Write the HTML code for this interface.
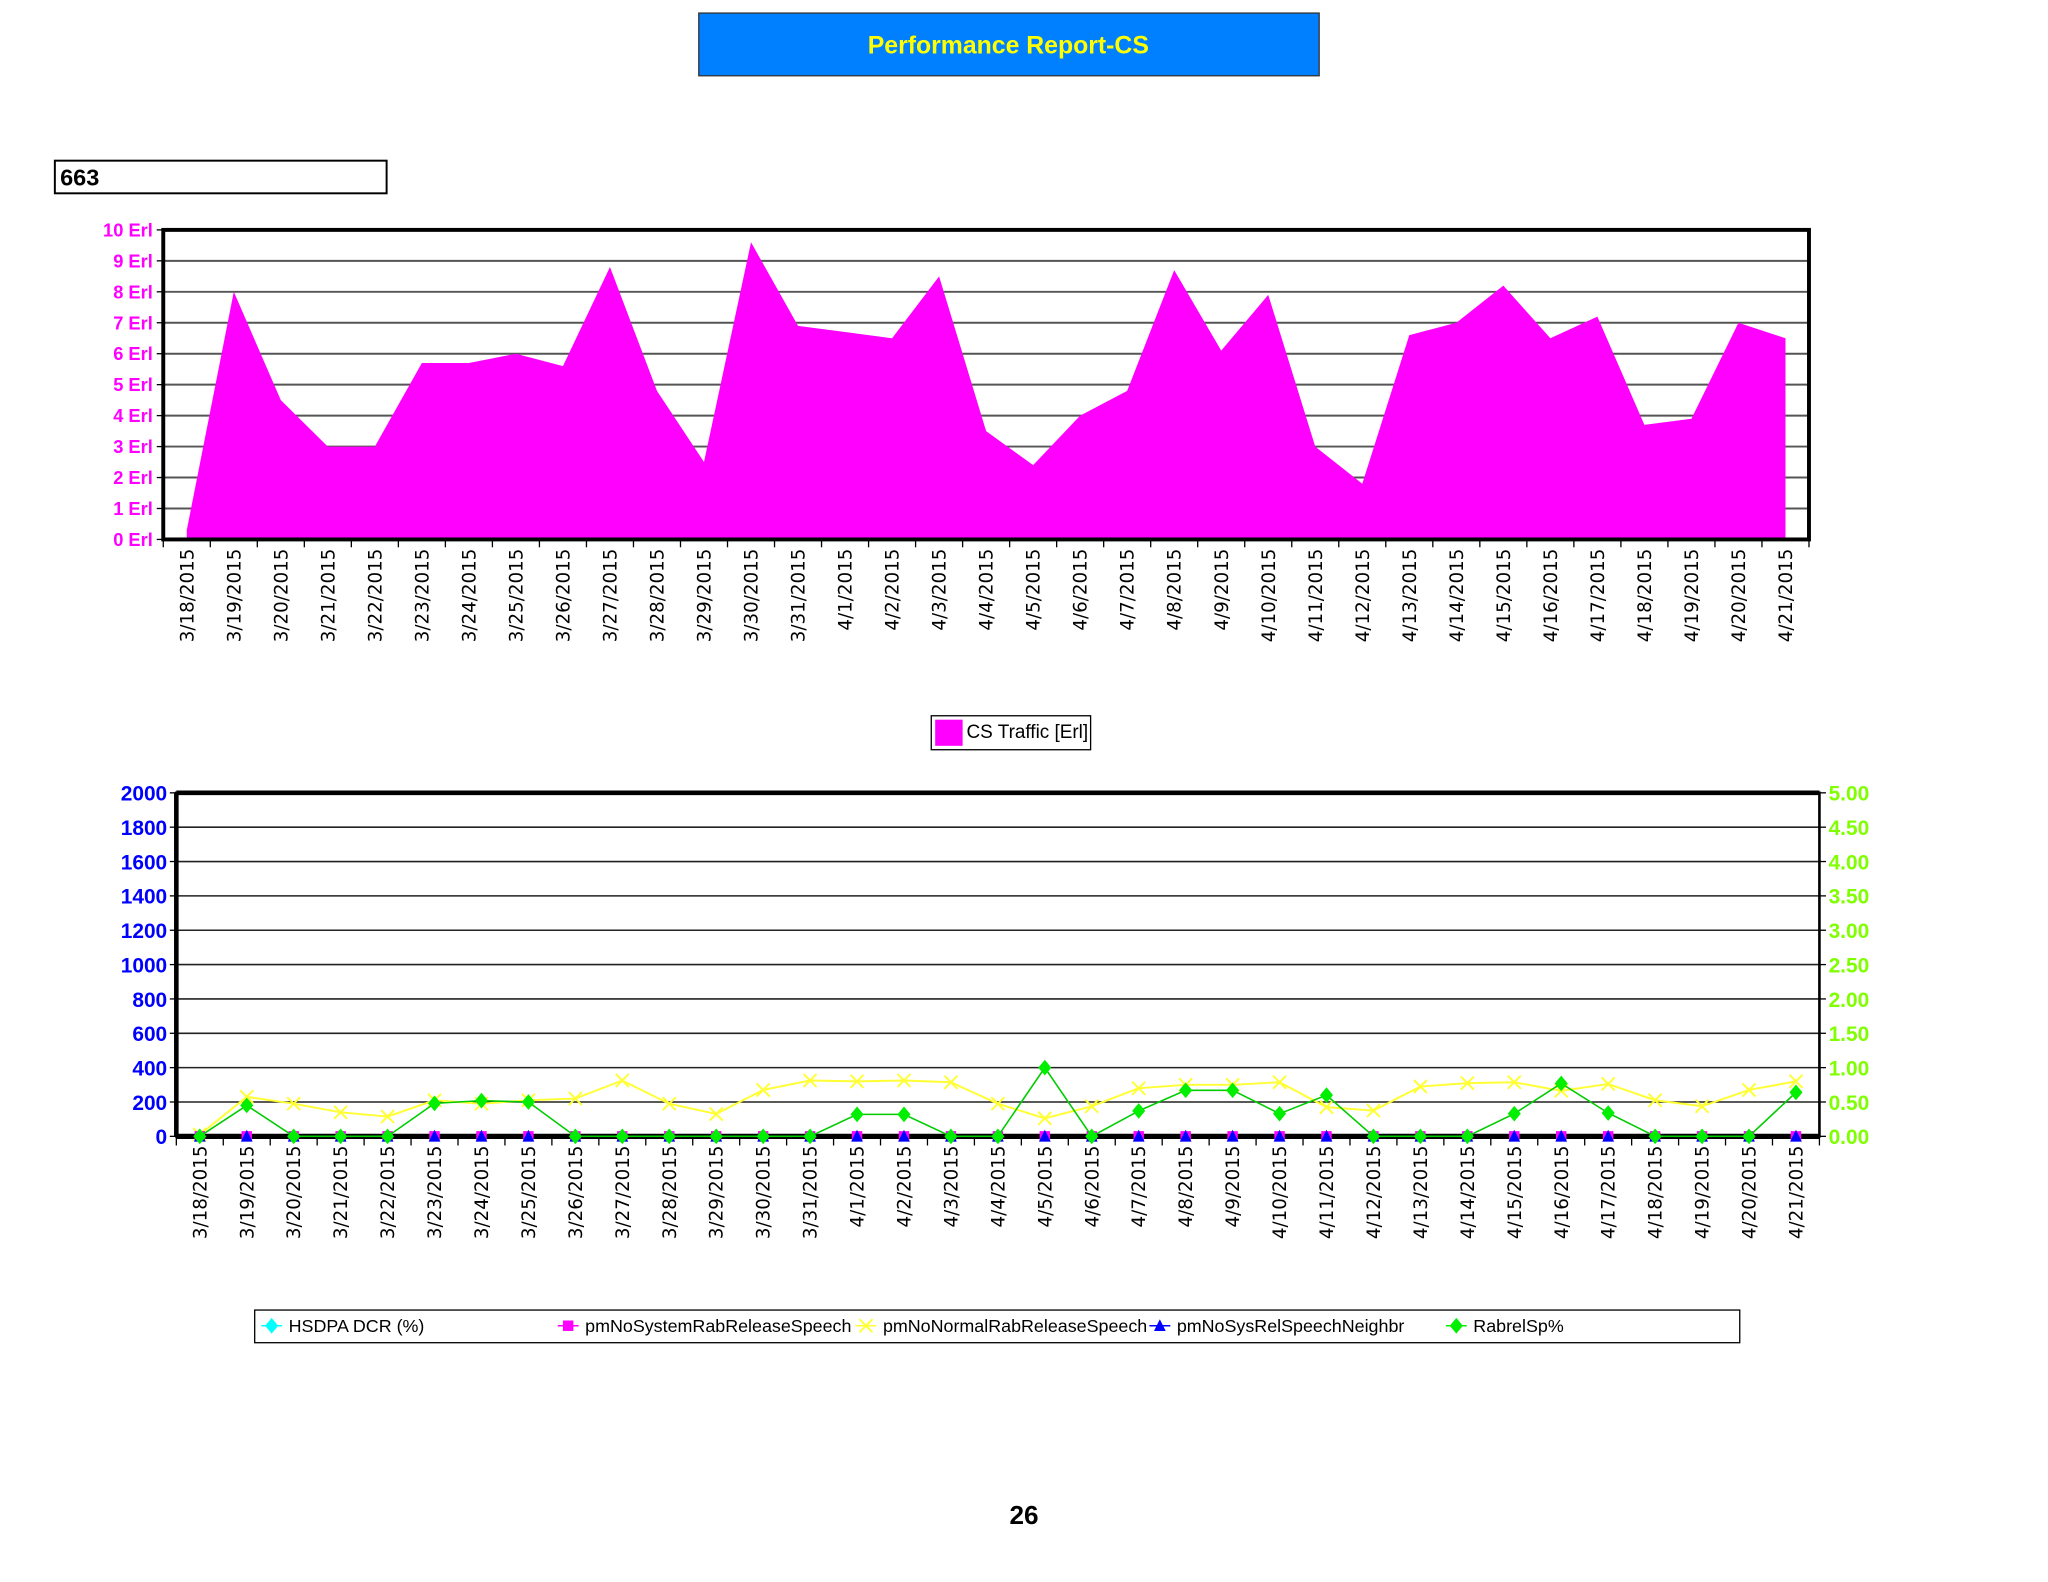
<!DOCTYPE html>
<html><head><meta charset="utf-8"><style>
html,body{margin:0;padding:0;background:#fff;}
svg{display:block;font-family:"Liberation Sans",sans-serif;}
</style></head><body>
<svg id="root" width="2048" height="1582" viewBox="0 0 1568 1211.2">
<rect x="535" y="10" width="475" height="48" fill="#0080ff" stroke="#333" stroke-width="1"/>
<text x="772" y="41" text-anchor="middle" font-size="19" font-weight="bold" fill="#ffff00">Performance Report-CS</text>
<rect x="42" y="123" width="254" height="25" fill="#fff" stroke="#000" stroke-width="1.5"/>
<text x="46" y="142" font-size="18" font-weight="bold" fill="#000">663</text>
<g id="c1"></g>
<g id="lg1">
<rect x="713" y="548" width="122" height="26" fill="#fff" stroke="#000" stroke-width="1"/>
<rect x="716" y="551" width="21" height="20" fill="#ff00ff"/>
<text x="740" y="565" font-size="14.5" fill="#000">CS Traffic [Erl]</text>
</g>
<g id="c2"></g>
<g id="lg2">
<rect x="195" y="1003" width="1137" height="25" fill="#fff" stroke="#000" stroke-width="1"/>
</g>
<text x="784" y="1167" text-anchor="middle" font-size="20" font-weight="bold" fill="#000">26</text>
</svg>
<script>
const dates=["3/18/2015","3/19/2015","3/20/2015","3/21/2015","3/22/2015","3/23/2015","3/24/2015","3/25/2015","3/26/2015","3/27/2015","3/28/2015","3/29/2015","3/30/2015","3/31/2015","4/1/2015","4/2/2015","4/3/2015","4/4/2015","4/5/2015","4/6/2015","4/7/2015","4/8/2015","4/9/2015","4/10/2015","4/11/2015","4/12/2015","4/13/2015","4/14/2015","4/15/2015","4/16/2015","4/17/2015","4/18/2015","4/19/2015","4/20/2015","4/21/2015"];
const csTraffic=[0.3,8.0,4.5,3.0,3.0,5.7,5.7,6.0,5.6,8.8,4.8,2.5,9.6,6.9,6.7,6.5,8.5,3.5,2.4,4.0,4.8,8.7,6.1,7.9,3.0,1.8,6.6,7.0,8.2,6.5,7.2,3.7,3.9,7.0,6.5];
const erlTicks=["0 Erl","1 Erl","2 Erl","3 Erl","4 Erl","5 Erl","6 Erl","7 Erl","8 Erl","9 Erl","10 Erl"];
const normalRel=[10,230,190,140,115,210,190,210,220,325,190,130,270,325,320,325,315,190,105,175,280,300,300,315,170,150,290,310,315,265,305,210,175,270,320];
const rabrelSp=[0,0.45,0,0,0,0.48,0.52,0.5,0,0,0,0,0,0,0.32,0.32,0,0,1.0,0,0.37,0.67,0.67,0.33,0.6,0,0,0,0.33,0.77,0.34,0,0,0,0.64];
const systemRel=dates.map(()=>0);
const sysRelNeighbr=dates.map(()=>0);
const hsdpaDcr=dates.map(()=>0);
const leftTicks=[0,200,400,600,800,1000,1200,1400,1600,1800,2000];
const rightTicks=["0.00","0.50","1.00","1.50","2.00","2.50","3.00","3.50","4.00","4.50","5.00"];

const NS="http://www.w3.org/2000/svg";
function mk(p,t,a){const e=document.createElementNS(NS,t);for(const k in a)e.setAttribute(k,a[k]);p.appendChild(e);return e;}

(function(){
const g=document.getElementById('c1');
const L=125,R=1385,T=176,B=413,n=dates.length,bw=(R-L)/n;
const x=i=>L+bw*(i+0.5), y=v=>B-(v/10)*(B-T);
erlTicks.forEach((t,i)=>{
 const yy=y(i);
 const gl=mk(g,'line',{x1:L,x2:R,y1:yy,y2:yy,stroke:'#555','stroke-width':1.5});
 
 
 mk(g,'line',{x1:L-5,x2:L,y1:yy,y2:yy,stroke:'#000'});
 const tx=mk(g,'text',{x:117,y:yy+5,'text-anchor':'end','font-size':14,'font-weight':'bold',fill:'#ff00ff'});
 tx.textContent=t;
 
 
});
let d='M'+x(0)+','+B;
csTraffic.forEach((v,i)=>{d+=' L'+x(i)+','+y(v);});
d+=' L'+x(n-1)+','+B+' Z';
const area=mk(g,'path',{d:d,fill:'#ff00ff'});


const fr=mk(g,'rect',{x:L,y:T,width:R-L,height:B-T,fill:'none',stroke:'#000','stroke-width':3});


for(let i=0;i<=n;i++)mk(g,'line',{x1:L+bw*i,x2:L+bw*i,y1:B,y2:B+6,stroke:'#000'});
dates.forEach((t,i)=>{
 const tx=mk(g,'text',{x:0,y:0,transform:`translate(${x(i)+5},420) rotate(-90)`,'text-anchor':'end','font-size':14,fill:'#000','font-family':'DejaVu Sans, sans-serif'});
 tx.textContent=t;
 
 
});
})();

(function(){
const g=document.getElementById('c2');
const L=135,R=1393,T=607,B=870,n=dates.length,bw=(R-L)/n;
const x=i=>L+bw*(i+0.5), yl=v=>B-(v/2000)*(B-T), yr=v=>B-(v/5)*(B-T);
leftTicks.forEach((t,i)=>{
 const yy=yl(t);
 const gl=mk(g,'line',{x1:L,x2:R,y1:yy,y2:yy,stroke:'#222','stroke-width':1.2});
 
 
 mk(g,'line',{x1:L-5,x2:L,y1:yy,y2:yy,stroke:'#000'});
 mk(g,'line',{x1:R,x2:R+5,y1:yy,y2:yy,stroke:'#000'});
 const tx=mk(g,'text',{x:128,y:yy+6,'text-anchor':'end','font-size':16,'font-weight':'bold',fill:'#0000ff'});
 tx.textContent=t;
 
 
 const rt=mk(g,'text',{x:1400,y:yy+6,'font-size':16,'font-weight':'bold',fill:'#80ff00'});
 rt.textContent=rightTicks[i];
 
 
});
mk(g,'rect',{x:L,y:T,width:R-L,height:B-T,fill:'none',stroke:'#000','stroke-width':2});
mk(g,'line',{x1:L,x2:R,y1:T,y2:T,stroke:'#000','stroke-width':3.5});
mk(g,'line',{x1:L,x2:R,y1:B,y2:B,stroke:'#000','stroke-width':4});
mk(g,'line',{x1:L,x2:L,y1:T,y2:B,stroke:'#000','stroke-width':3.5});
for(let i=0;i<=n;i++)mk(g,'line',{x1:L+bw*i,x2:L+bw*i,y1:B,y2:B+7,stroke:'#000'});
const yp=mk(g,'polyline',{points:normalRel.map((v,i)=>x(i)+','+yl(v)).join(' '),fill:'none',stroke:'#ffff33','stroke-width':1.5});


normalRel.forEach((v,i)=>{const cx=x(i),cy=yl(v);
 const m=mk(g,'path',{d:`M${cx-5},${cy-5}L${cx+5},${cy+5}M${cx-5},${cy+5}L${cx+5},${cy-5}`,stroke:'#ffff33','stroke-width':1.5});
 
 });
systemRel.forEach((v,i)=>{const cx=x(i),cy=yl(v);
 const s=mk(g,'rect',{x:cx-4,y:cy-4,width:8,height:8,fill:'#ff00ff'});
 
 });
sysRelNeighbr.forEach((v,i)=>{const cx=x(i),cy=yl(v);
 const t=mk(g,'path',{d:`M${cx},${cy-5}L${cx+4.5},${cy+4}L${cx-4.5},${cy+4}Z`,fill:'#0000ff'});
 
 });
const gp=mk(g,'polyline',{points:rabrelSp.map((v,i)=>x(i)+','+yr(v)).join(' '),fill:'none',stroke:'#00cc00','stroke-width':1.2});


rabrelSp.forEach((v,i)=>{const cx=x(i),cy=yr(v);
 const m=mk(g,'path',{d:`M${cx},${cy-6}L${cx+5},${cy}L${cx},${cy+6}L${cx-5},${cy}Z`,fill:'#00ee00'});
 
 });
dates.forEach((t,i)=>{
 const tx=mk(g,'text',{x:0,y:0,transform:`translate(${x(i)+5},877) rotate(-90)`,'text-anchor':'end','font-size':14,fill:'#000','font-family':'DejaVu Sans, sans-serif'});
 tx.textContent=t;
 
 
});
})();

(function(){
const g=document.getElementById('lg2');
const items=[["HSDPA DCR (%)",'#00ffff','d',200],["pmNoSystemRabReleaseSpeech",'#ff00ff','s',427],["pmNoNormalRabReleaseSpeech",'#ffff33','x',655],["pmNoSysRelSpeechNeighbr",'#0000ff','t',880],["RabrelSp%",'#00ee00','d',1107]];
items.forEach(it=>{
 const lx=it[3],cy=1015;
 mk(g,'line',{x1:lx,x2:lx+16,y1:cy,y2:cy,stroke:it[1],'stroke-width':1.2});
 const c=lx+8;let m;
 if(it[2]==='d')m=mk(g,'path',{d:`M${c},${cy-6}L${c+5},${cy}L${c},${cy+6}L${c-5},${cy}Z`,fill:it[1]});
 else if(it[2]==='s')m=mk(g,'rect',{x:c-4,y:cy-4,width:8,height:8,fill:it[1]});
 else if(it[2]==='t')m=mk(g,'path',{d:`M${c},${cy-5}L${c+4.5},${cy+4}L${c-4.5},${cy+4}Z`,fill:it[1]});
 else m=mk(g,'path',{d:`M${c-5},${cy-5}L${c+5},${cy+5}M${c-5},${cy+5}L${c+5},${cy-5}`,stroke:it[1],'stroke-width':1.5});
 
 
 const tx=mk(g,'text',{x:lx+21,y:cy+5,'font-size':13.7,fill:'#000'});
 tx.textContent=it[0];
 
 
});
})();
</script>
</body></html>
